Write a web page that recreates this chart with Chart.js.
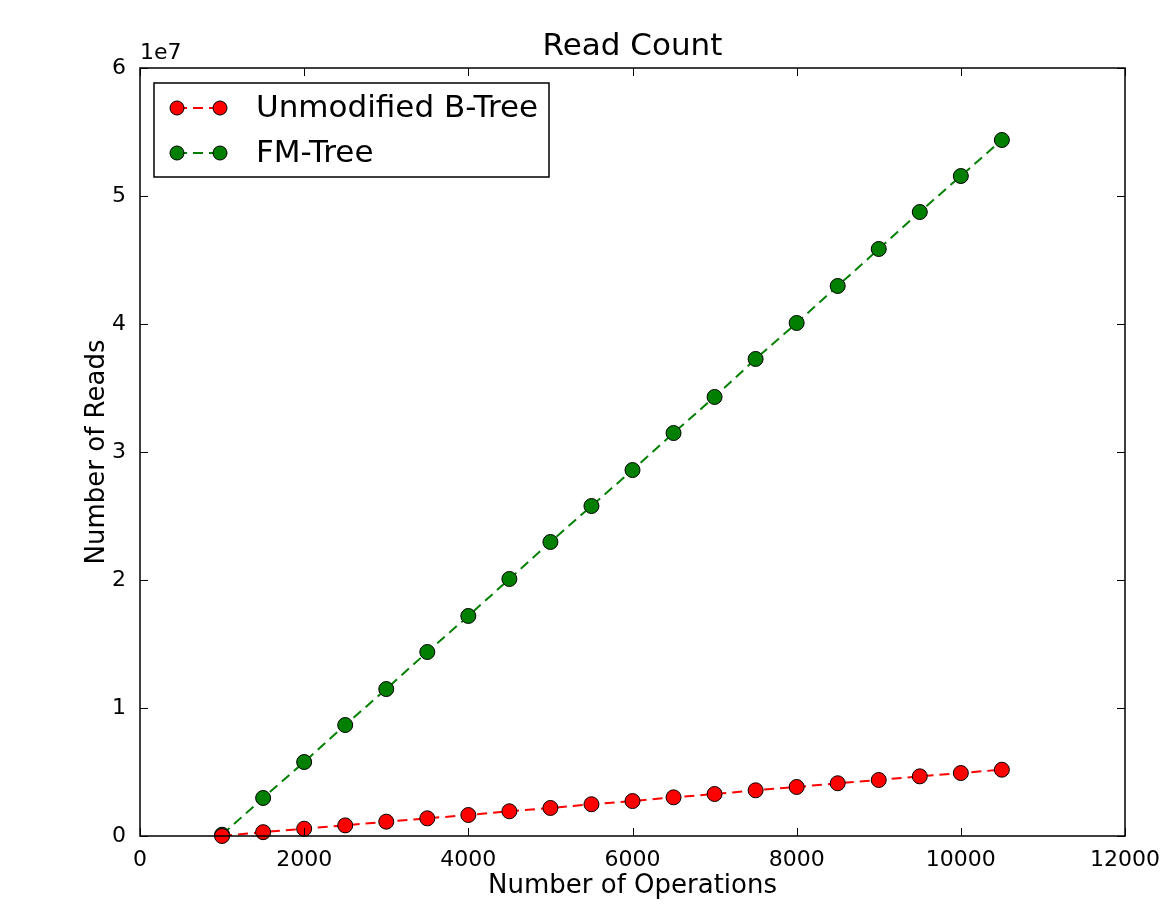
<!DOCTYPE html>
<html>
<head>
<meta charset="utf-8">
<script src="https://cdn.jsdelivr.net/npm/chart.js@4/dist/chart.umd.min.js"></script>
<style>
  html, body { margin: 0; padding: 0; background: #fff; }
  #wrap { width: 1170px; height: 906px; }
</style>
</head>
<body>
<div id="wrap"><canvas id="readChart" width="1170" height="906"></canvas></div>
<script>
const operations = [1000, 1500, 2000, 2500, 3000, 3500, 4000, 4500, 5000, 5500,
    6000, 6500, 7000, 7500, 8000, 8500, 9000, 9500, 10000, 10500];
const btreeReads = [0, 300000, 570000, 830000, 1120000, 1380000, 1640000, 1930000, 2190000, 2480000,
    2730000, 3020000, 3280000, 3570000, 3830000, 4120000, 4375000, 4660000, 4920000, 5180000];
const fmtreeReads = [100000, 2970000, 5780000, 8670000, 11480000, 14375000, 17190000, 20080000, 22970000, 25780000,
    28590000, 31480000, 34300000, 37270000, 40080000, 42970000, 45860000, 48750000, 51560000, 54375000];
const xTicks = [0, 2000, 4000, 6000, 8000, 10000, 12000];
const yTicks = [0, 1e7, 2e7, 3e7, 4e7, 5e7, 6e7];
const seriesNames = ['Unmodified B-Tree', 'FM-Tree'];

const font = 'DejaVu Sans';

function toPoints(xs, ys) {
    let pts = [];
    for (let i = 0; i < xs.length; i++) {
        pts[i] = { x: xs[i], y: ys[i] };
    }
    return pts;
}

// matplotlib style frame, inward ticks, title, offset text and legend
const decorations = {
    id: 'decorations',
    afterDraw(chart) {
        const ctx = chart.ctx;
        const a = chart.chartArea;
        const xs = chart.scales.x;
        const ys = chart.scales.y;
        ctx.save();
        ctx.strokeStyle = '#000';
        ctx.lineWidth = 1.5;
        ctx.strokeRect(a.left, a.top, a.right - a.left, a.bottom - a.top);
        ctx.lineWidth = 1;
        const tl = 8;
        ctx.beginPath();
        xTicks.forEach(v => {
            const px = Math.round(xs.getPixelForValue(v)) + 0.5;
            ctx.moveTo(px, a.bottom); ctx.lineTo(px, a.bottom - tl);
            ctx.moveTo(px, a.top); ctx.lineTo(px, a.top + tl);
        });
        yTicks.forEach(v => {
            const py = Math.round(ys.getPixelForValue(v)) + 0.5;
            ctx.moveTo(a.left, py); ctx.lineTo(a.left + tl, py);
            ctx.moveTo(a.right, py); ctx.lineTo(a.right - tl, py);
        });
        ctx.stroke();

        ctx.fillStyle = '#000';
        ctx.textAlign = 'center';
        ctx.textBaseline = 'middle';
        ctx.font = '31px "' + font + '"';
        ctx.fillText('Read Count', (a.left + a.right) / 2, 47);
        ctx.font = '26px "' + font + '"';
        ctx.fillText('Number of Operations', (a.left + a.right) / 2, 886);
        ctx.font = '22px "' + font + '"';
        ctx.textAlign = 'left';
        ctx.fillText('1e7', a.left, 53);
        ctx.save();
        ctx.translate(97, (a.top + a.bottom) / 2);
        ctx.rotate(-Math.PI / 2);
        ctx.textAlign = 'center';
        ctx.font = '26px "' + font + '"';
        ctx.fillText('Number of Reads', 0, 0);
        ctx.restore();

        // legend box
        const bx = a.left + 14, by = a.top + 15, bw = 395, bh = 94;
        ctx.fillStyle = '#fff';
        ctx.fillRect(bx, by, bw, bh);
        ctx.lineWidth = 1.5;
        ctx.strokeStyle = '#000';
        ctx.strokeRect(bx, by, bw, bh);
        chart.data.datasets.forEach((ds, i) => {
            const ly = by + 25 + i * 45;
            const x1 = bx + 23, x2 = bx + 66;
            ctx.strokeStyle = ds.borderColor;
            ctx.lineWidth = 2;
            ctx.setLineDash(ds.borderDash);
            ctx.beginPath();
            ctx.moveTo(x1, ly); ctx.lineTo(x2, ly);
            ctx.stroke();
            ctx.setLineDash([]);
            [x1, x2].forEach(cx => {
                ctx.beginPath();
                ctx.arc(cx, ly, 7, 0, Math.PI * 2);
                ctx.fillStyle = ds.pointBackgroundColor;
                ctx.fill();
                ctx.lineWidth = 1;
                ctx.strokeStyle = '#000';
                ctx.stroke();
            });
            ctx.fillStyle = '#000';
            ctx.textAlign = 'left';
            ctx.font = '31px "' + font + '"';
            ctx.fillText(ds.label, bx + 102, ly + 1);
        });
        ctx.restore();
    }
};

new Chart(document.getElementById('readChart'), {
    type: 'line',
    data: {
        datasets: [{
            label: seriesNames[0],
            data: toPoints(operations, btreeReads),
            borderColor: '#ff0000',
            borderWidth: 2,
            borderDash: [10, 6],
            pointBackgroundColor: '#ff0000',
            pointBorderColor: '#000',
            pointBorderWidth: 1,
            pointRadius: 7.5,
            fill: false,
            tension: 0
        }, {
            label: seriesNames[1],
            data: toPoints(operations, fmtreeReads),
            borderColor: '#007f00',
            borderWidth: 2,
            borderDash: [10, 6],
            pointBackgroundColor: '#007f00',
            pointBorderColor: '#000',
            pointBorderWidth: 1,
            pointRadius: 7.5,
            fill: false,
            tension: 0
        }]
    },
    options: {
        responsive: false,
        animation: false,
        clip: false,
        layout: { padding: { left: 0, right: 45, top: 68, bottom: 0 } },
        plugins: {
            legend: { display: false },
            title: { display: false },
            tooltip: { enabled: false }
        },
        scales: {
            x: {
                type: 'linear',
                min: 0,
                max: 12000,
                afterBuildTicks: (s) => { s.ticks = xTicks.map(v => ({ value: v })); },
                afterFit: (s) => { s.height = 70; },
                grid: { display: false },
                border: { display: false },
                ticks: {
                    color: '#000',
                    font: { family: font, size: 22 },
                    padding: 3,
                    maxRotation: 0,
                    callback: (v) => String(v)
                }
            },
            y: {
                type: 'linear',
                min: 0,
                max: 6e7,
                afterBuildTicks: (s) => { s.ticks = yTicks.map(v => ({ value: v })); },
                afterFit: (s) => { s.width = 140; },
                grid: { display: false },
                border: { display: false },
                ticks: {
                    color: '#000',
                    font: { family: font, size: 22 },
                    padding: 6,
                    callback: (v) => String(v / 1e7)
                }
            }
        }
    },
    plugins: [decorations]
});
</script>
</body>
</html>
